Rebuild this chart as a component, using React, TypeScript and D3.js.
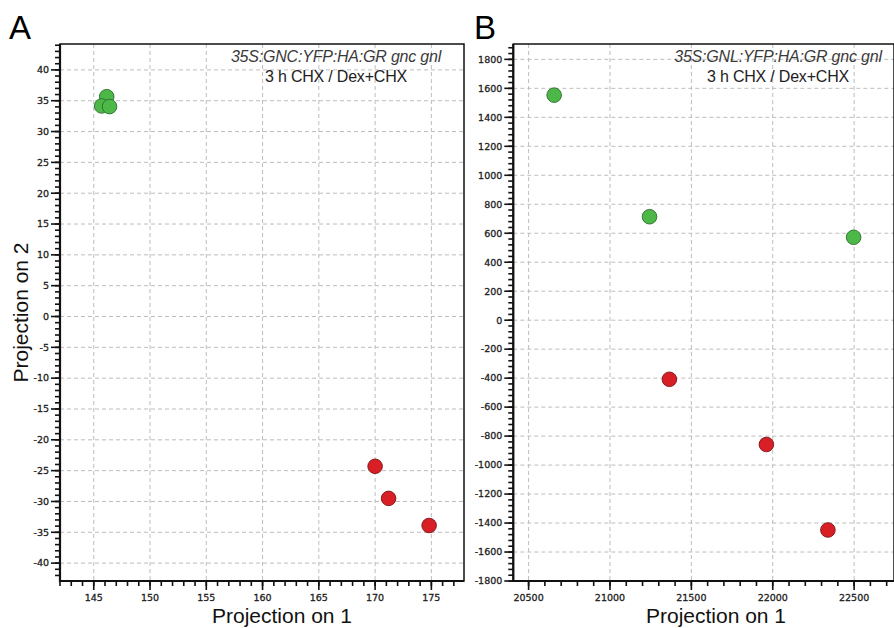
import * as d3 from "d3";

// Panel A: 35S:GNC:YFP:HA:GR
const aGreen: [number, number][] = [
  [146.15, 35.65],
  [145.7, 34.15],
  [146.4, 34.05],
];
const aRed: [number, number][] = [
  [170.0, -24.3],
  [171.2, -29.5],
  [174.8, -33.9],
];
const aXTicks = [145, 150, 155, 160, 165, 170, 175];
const aYTicks = [40, 35, 30, 25, 20, 15, 10, 5, 0, -5, -10, -15, -20, -25, -30, -35, -40];

// Panel B: 35S:GNL:YFP:HA:GR
const bGreen: [number, number][] = [
  [20657, 1553],
  [21243, 714],
  [22497, 572],
];
const bRed: [number, number][] = [
  [21365, -408],
  [21961, -858],
  [22339, -1448],
];
const bXTicks = [20500, 21000, 21500, 22000, 22500];
const bYTicks = [1800, 1600, 1400, 1200, 1000, 800, 600, 400, 200, 0, -200, -400, -600, -800, -1000, -1200, -1400, -1600, -1800];

const GREEN = "#4cb848";
const GREEN_STROKE = "#2d6a2b";
const RED = "#d91f26";
const RED_STROKE = "#7d1416";
const GRID = "#bdbdbd";
const TICK_FONT = "DejaVu Sans, sans-serif";
const LABEL_FONT = "Liberation Sans, Arial, sans-serif";

type PanelProps = {
  letter: string;
  letterX: number;
  x: d3.ScaleLinear<number, number>;
  y: d3.ScaleLinear<number, number>;
  xTicks: number[];
  yTicks: number[];
  xMinor: number;
  yMinor: number;
  green: [number, number][];
  red: [number, number][];
  title: string;
  titleX: number;
  xLabelX: number;
  yLabel?: string;
};

function Panel({
  letter,
  letterX,
  x,
  y,
  xTicks,
  yTicks,
  xMinor,
  yMinor,
  green,
  red,
  title,
  titleX,
  xLabelX,
  yLabel,
}: PanelProps) {
  const [x0, x1] = x.range();
  const [y0, y1] = y.range(); // y0 bottom, y1 top
  const [xd0, xd1] = x.domain();
  const [yd0, yd1] = y.domain();
  const xMinorTicks = d3.range(Math.ceil(xd0 / xMinor) * xMinor, xd1 + 1e-9, xMinor);
  const yMinorTicks = d3.range(Math.ceil(yd0 / yMinor) * yMinor, yd1 + 1e-9, yMinor);
  const clipId = `clip-${letter}`;

  return (
    <g>
      <defs>
        <clipPath id={clipId}>
          <rect x={x0} y={y1} width={x1 - x0} height={y0 - y1} />
        </clipPath>
      </defs>
      <rect x={x0} y={y1} width={x1 - x0} height={y0 - y1} fill="#fff" />

      {/* grid */}
      <g stroke={GRID} strokeWidth={1} strokeDasharray="4,3">
        {xTicks.map(t => (
          <line key={`gx${t}`} x1={x(t)} x2={x(t)} y1={y1} y2={y0} />
        ))}
        {yTicks.map(t => (
          <line key={`gy${t}`} x1={x0} x2={x1} y1={y(t)} y2={y(t)} />
        ))}
      </g>

      {/* title */}
      <text
        x={titleX}
        y={62}
        textAnchor="middle"
        fontFamily={LABEL_FONT}
        fontSize={16}
        fontStyle="italic"
        fill="#3a3a3a"
        letterSpacing={-0.2}
      >
        {title}
      </text>
      <text
        x={titleX}
        y={82}
        textAnchor="middle"
        fontFamily={LABEL_FONT}
        fontSize={16}
        fill="#222"
        letterSpacing={-0.2}
      >
        3 h CHX / Dex+CHX
      </text>

      {/* points */}
      <g clipPath={`url(#${clipId})`}>
        {green.map((d, i) => (
          <circle key={`g${i}`} cx={x(d[0])} cy={y(d[1])} r={7.3} fill={GREEN} stroke={GREEN_STROKE} strokeWidth={0.9} />
        ))}
        {red.map((d, i) => (
          <circle key={`r${i}`} cx={x(d[0])} cy={y(d[1])} r={7.3} fill={RED} stroke={RED_STROKE} strokeWidth={0.9} />
        ))}
      </g>

      {/* frame */}
      <rect x={x0} y={y1} width={x1 - x0} height={y0 - y1} fill="none" stroke="#111" strokeWidth={1.5} />
      <line x1={x0} x2={x0} y1={y1} y2={y0 + 1} stroke="#111" strokeWidth={2.2} />
      <line x1={x0 - 1} x2={x1} y1={y0} y2={y0} stroke="#111" strokeWidth={2.2} />

      {/* ticks */}
      <g stroke="#111" strokeWidth={1.6}>
        {yMinorTicks.map(t => (
          <line key={`my${t}`} x1={x0 - 5} x2={x0} y1={y(t)} y2={y(t)} />
        ))}
        {yTicks.map(t => (
          <line key={`My${t}`} x1={x0 - 9} x2={x0} y1={y(t)} y2={y(t)} />
        ))}
        {xMinorTicks.map(t => (
          <line key={`mx${t}`} x1={x(t)} x2={x(t)} y1={y0} y2={y0 + 5} />
        ))}
        {xTicks.map(t => (
          <line key={`Mx${t}`} x1={x(t)} x2={x(t)} y1={y0} y2={y0 + 9} />
        ))}
      </g>
      <g fontFamily={TICK_FONT} fontSize={9.5} fill="#222" stroke="#222" strokeWidth={0.3}>
        {yTicks.map(t => (
          <text key={`ly${t}`} x={x0 - 11} y={y(t)} dy="0.35em" textAnchor="end">
            {t}
          </text>
        ))}
        {xTicks.map(t => (
          <text key={`lx${t}`} x={x(t)} y={y0 + 20} textAnchor="middle">
            {t}
          </text>
        ))}
      </g>

      {/* axis labels */}
      <text x={xLabelX} y={623} textAnchor="middle" fontFamily={LABEL_FONT} fontSize={21} fill="#111">
        Projection on 1
      </text>
      {yLabel && (
        <text
          transform={`translate(28,${(y0 + y1) / 2}) rotate(-90)`}
          textAnchor="middle"
          fontFamily={LABEL_FONT}
          fontSize={21}
          fill="#111"
        >
          {yLabel}
        </text>
      )}

      <text x={letterX} y={39} fontFamily={LABEL_FONT} fontSize={33} fill="#000">
        {letter}
      </text>
    </g>
  );
}

export default function App() {
  const width = 894;
  const height = 628;

  const aX = d3.scaleLinear().domain([142, 177.9]).range([60, 464]);
  const aY = d3.scaleLinear().domain([-42.9, 44.2]).range([581, 44]);
  const bX = d3.scaleLinear().domain([20406, 22745]).range([513.3, 894]);
  const bY = d3.scaleLinear().domain([-1800, 1906]).range([581, 44]);

  return (
    <svg
      width={width}
      height={height}
      style={{ position: "absolute", left: 0, top: 0, background: "#fff" }}
    >
      <Panel
        letter="A"
        letterX={9}
        x={aX}
        y={aY}
        xTicks={aXTicks}
        yTicks={aYTicks}
        xMinor={1}
        yMinor={1}
        green={aGreen}
        red={aRed}
        title="35S:GNC:YFP:HA:GR gnc gnl"
        titleX={336}
        xLabelX={282}
        yLabel="Projection on 2"
      />
      <Panel
        letter="B"
        letterX={474}
        x={bX}
        y={bY}
        xTicks={bXTicks}
        yTicks={bYTicks}
        xMinor={100}
        yMinor={40}
        green={bGreen}
        red={bRed}
        title="35S:GNL:YFP:HA:GR gnc gnl"
        titleX={778}
        xLabelX={716}
      />
    </svg>
  );
}
